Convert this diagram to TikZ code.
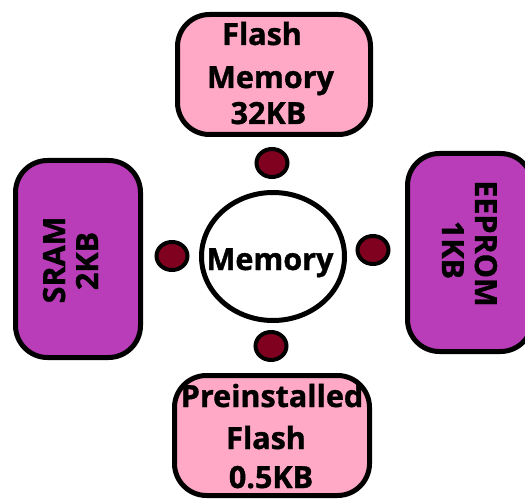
\documentclass[tikz,border=0pt]{standalone}
\usepackage{fontspec}
\setmainfont{Open Sans}[BoldFeatures={FakeBold=1.2}]
\usetikzlibrary{shapes.geometric}
\definecolor{pinkfill}{HTML}{FFA9C6}
\definecolor{purplefill}{HTML}{B93DB8}
\definecolor{dotred}{HTML}{80001F}
\tikzset{
  box/.style={draw=black, line width=5pt, rounded corners=32pt, rectangle, inner sep=0pt},
  pinkbox/.style={box, fill=pinkfill},
  purplebox/.style={box, fill=purplefill},
  dot/.style={ellipse, draw=black, line width=4pt, fill=dotred, minimum width=31pt, minimum height=28pt, inner sep=0pt},
  lbl/.style={font=\fontsize{30.5}{36}\selectfont\bfseries, inner sep=0pt, anchor=base}
}
\begin{document}
\begin{tikzpicture}[x=1pt,y=-1pt]
\useasboundingbox (0,0) rectangle (525,500);
% boxes
\node[pinkbox, minimum width=193pt, minimum height=120pt] (flash) at (274,74.5) {};
\node[purplebox, minimum width=125pt, minimum height=197pt] (sram) at (78,259) {};
\node[purplebox, minimum width=125pt, minimum height=198pt] (eeprom) at (470,252.5) {};
\node[pinkbox, minimum width=195pt, minimum height=120pt] (pflash) at (272,435.5) {};
% center circle
\node[ellipse, draw=black, line width=5pt, fill=white, minimum width=143pt, minimum height=128pt] (mem) at (273,256.5) {};
% dots
\node[dot] (dtop) at (272,163) {};
\node[dot] (dleft) at (172,256) {};
\node[dot] (dright) at (373,250) {};
\node[dot] (dbot) at (271,346) {};
% labels
\node[lbl] (f1) at (262,45) {Flash};
\node[lbl] (f2) at (270.5,88) {Memory};
\node[lbl] (f3) at (268.5,124) {32KB};
\node[lbl] (m1) at (270,270) {Memory};
\node[lbl, rotate=90] (s1) at (65,260) {SRAM};
\node[lbl, rotate=90] (s2) at (98,261) {2KB};
\node[lbl, rotate=-90] (e1) at (475,243.5) {EEPROM};
\node[lbl, rotate=-90] (e2) at (442,250) {1KB};
\node[lbl] (p1) at (272,407) {Preinstalled};
\node[lbl] (p2) at (266,449) {Flash};
\node[lbl] (p3) at (271,488) {0.5KB};
\end{tikzpicture}
\end{document}
